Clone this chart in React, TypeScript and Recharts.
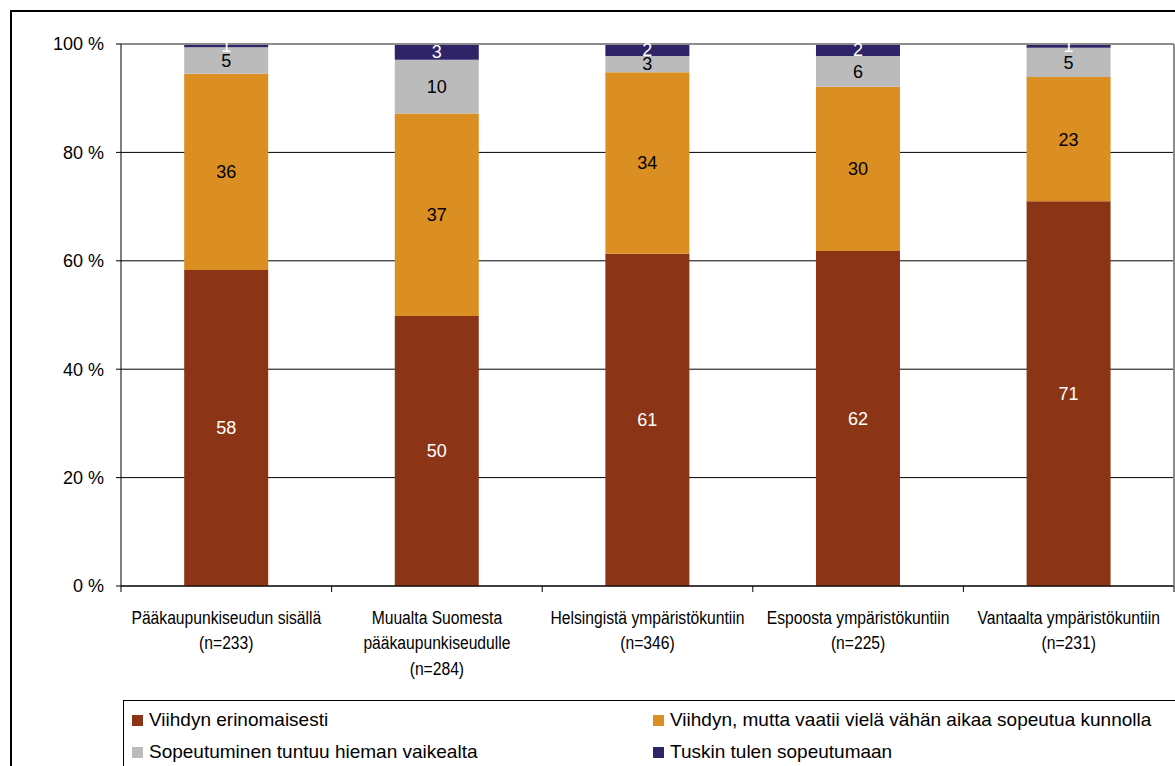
import React from "react";
import {
  BarChart,
  Bar,
  XAxis,
  YAxis,
  CartesianGrid,
  LabelList,
  ReferenceLine,
} from "recharts";

// category labels, one entry per line
const categoryLines: string[][] = [
  ["Pääkaupunkiseudun sisällä", "(n=233)"],
  ["Muualta Suomesta", "pääkaupunkiseudulle", "(n=284)"],
  ["Helsingistä ympäristökuntiin", "(n=346)"],
  ["Espoosta ympäristökuntiin", "(n=225)"],
  ["Vantaalta ympäristökuntiin", "(n=231)"],
];

// shares in percent
const erinomaisesti = [58.3, 49.8, 61.3, 61.8, 71.0];
const vaatiiAikaa = [36.2, 37.4, 33.5, 30.3, 22.9];
const vaikealta = [4.9, 9.9, 3.0, 5.7, 5.4];
const tuskin = [0.6, 2.9, 2.2, 2.2, 0.7];

const yTicks = [0, 20, 40, 60, 80, 100];

const series = [
  { key: "erinomaisesti", name: "Viihdyn erinomaisesti", color: "#8b3516", label: "#ffffff", values: erinomaisesti },
  { key: "vaatiiAikaa", name: "Viihdyn, mutta vaatii vielä vähän aikaa sopeutua kunnolla", color: "#db8f23", label: "#000000", values: vaatiiAikaa },
  { key: "vaikealta", name: "Sopeutuminen tuntuu hieman vaikealta", color: "#bbbbbb", label: "#000000", values: vaikealta },
  { key: "tuskin", name: "Tuskin tulen sopeutumaan", color: "#2f2468", label: "#ffffff", values: tuskin },
];

const data = categoryLines.map((lines, i) => {
  const row: Record<string, any> = { name: lines.join(" ") };
  series.forEach((s) => (row[s.key] = s.values[i]));
  return row;
});

const CategoryTick = (props: any) => {
  const { x, y, index, width } = props;
  const band = width ? width / categoryLines.length : (props.payload?.offset ?? 105) * 2;
  const lines = categoryLines[index] || [];
  const last = index === categoryLines.length - 1;
  return (
    <g>
      <line x1={x - band / 2} x2={x - band / 2} y1={y} y2={y + 6} stroke="#000" />
      {last && <line x1={x + band / 2} x2={x + band / 2} y1={y} y2={y + 6} stroke="#000" />}
      <g transform={`translate(${x},${y}) scale(0.87,1)`}>
        {lines.map((t, i) => (
          <text key={i} x={0} y={38 + i * 25.5} textAnchor="middle" fontSize={18} fill="#000">
            {t}
          </text>
        ))}
      </g>
    </g>
  );
};

export default function App() {
  return (
    <div
      style={{
        position: "absolute",
        left: 0,
        top: 0,
        width: 1175,
        height: 766,
        overflow: "hidden",
        background: "#fff",
        fontFamily: "'Liberation Sans', Arial, sans-serif",
      }}
    >
      <div
        style={{
          position: "absolute",
          left: 10,
          top: 10,
          width: 1300,
          height: 900,
          borderTop: "2px solid #000",
          borderLeft: "2px solid #000",
        }}
      />
      <BarChart
        width={1175}
        height={766}
        data={data}
        margin={{ top: 44, right: 0, bottom: 0, left: 0 }}
        barCategoryGap="30%"
        style={{ position: "absolute", left: 0, top: 0 }}
      >
        <CartesianGrid vertical={false} stroke="#000" />
        <XAxis
          dataKey="name"
          height={180}
          interval={0}
          tickLine={false}
          tickSize={0}
          tickMargin={0}
          axisLine={{ stroke: "#000" }}
          tick={<CategoryTick />}
        />
        <YAxis
          width={121}
          domain={[0, 100]}
          ticks={yTicks}
          tickFormatter={(v: number) => `${v} %`}
          tick={{ fontSize: 18, fill: "#000" }}
          tickSize={5}
          tickMargin={12}
          axisLine={{ stroke: "#000" }}
          tickLine={{ stroke: "#000" }}
        />
        <YAxis
          yAxisId="right"
          orientation="right"
          width={1}
          domain={[0, 100]}
          tick={false}
          tickLine={false}
          axisLine={{ stroke: "#8c8c8c", strokeWidth: 2 }}
        />
        <ReferenceLine y={100} stroke="#8c8c8c" strokeWidth={2} />
        {series.map((s) => (
          <Bar key={s.key} dataKey={s.key} name={s.name} stackId="a" fill={s.color} isAnimationActive={false}>
            <LabelList
              dataKey={s.key}
              position="center"
              fill={s.label}
              fontSize={18}
              formatter={(v: any) => Math.round(Number(v))}
            />
          </Bar>
        ))}
      </BarChart>
      <div
        style={{
          position: "absolute",
          left: 123,
          top: 700,
          width: 1200,
          height: 100,
          border: "1px solid #000",
          boxSizing: "border-box",
        }}
      >
        {series.map((s, i) => (
          <div
            key={s.key}
            style={{
              position: "absolute",
              left: i % 2 === 0 ? 8 : 529,
              top: i < 2 ? 7 : 39,
              height: 24,
              display: "flex",
              alignItems: "center",
              fontSize: 19,
              whiteSpace: "nowrap",
              color: "#000",
            }}
          >
            <span style={{ display: "inline-block", width: 11, height: 11, background: s.color, marginRight: 6 }} />
            {s.name}
          </div>
        ))}
      </div>
    </div>
  );
}
